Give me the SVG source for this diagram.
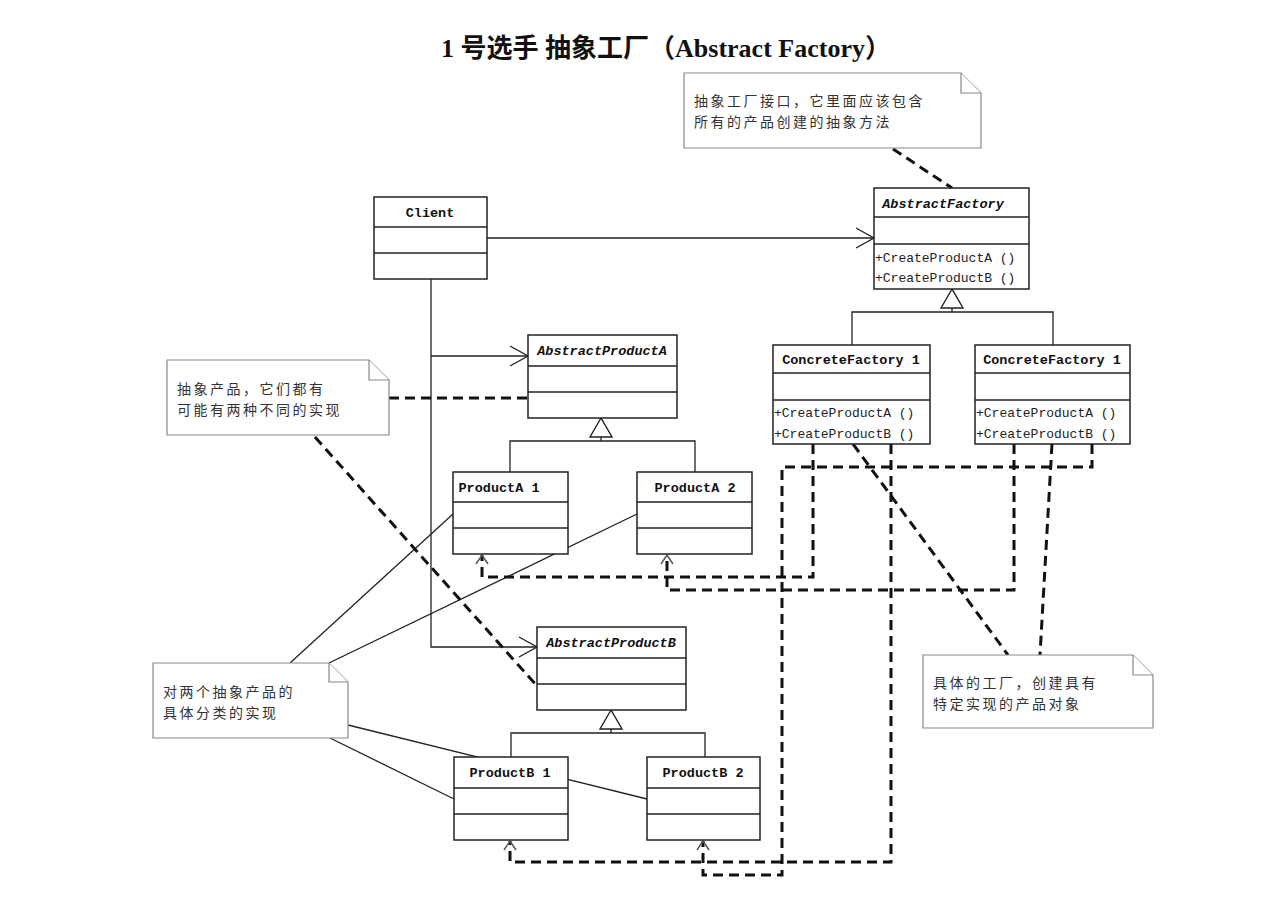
<svg xmlns="http://www.w3.org/2000/svg" width="1276" height="899" viewBox="0 0 1276 899">
<defs>
<style>
.box{fill:#fff;stroke:#222;stroke-width:1.5}
.sep{stroke:#222;stroke-width:1.5;fill:none}
.ln{stroke:#222;stroke-width:1.3;fill:none}
.dash{stroke:#111;stroke-width:3;fill:none;stroke-dasharray:10 6}
.note{fill:#fff;stroke:#888;stroke-width:1.2}
.tri{fill:#fff;stroke:#222;stroke-width:1.4}
.nm{font-family:"Liberation Mono",monospace;font-size:13.5px;fill:#111;text-anchor:middle}
.b{font-weight:bold}
.it{font-style:italic;font-weight:bold}
.mt{font-family:"Liberation Mono",monospace;font-size:13px;fill:#222}
.nt{font-family:"Noto Sans CJK SC",sans-serif;font-size:14px;letter-spacing:2.5px;fill:#333}
.title{font-family:"Liberation Serif","Noto Sans CJK SC",serif;font-size:26px;font-weight:bold;fill:#111;text-anchor:middle}
</style>
<marker id="open" markerUnits="userSpaceOnUse" markerWidth="22" markerHeight="24" refX="19" refY="11" orient="auto">
<path d="M1,1 L19,11 L1,21" fill="none" stroke="#222" stroke-width="1.4"/>
</marker>
<marker id="dep" markerUnits="userSpaceOnUse" markerWidth="14" markerHeight="16" refX="10" refY="7" orient="auto">
<path d="M1,1 L10,7 L1,13" fill="none" stroke="#555" stroke-width="1.5"/>
</marker>
</defs>
<rect width="1276" height="899" fill="#fff"/>

<g id="title">
<text class="title" x="666" y="57">1 号选手 抽象工厂（Abstract Factory）</text>
</g>

<g id="connectors">
<!-- associations from Client -->
<line class="ln" x1="487" y1="238" x2="874" y2="238" marker-end="url(#open)"/>
<polyline class="ln" points="431,279 431,647 537,647" marker-end="url(#open)"/>
<line class="ln" x1="431" y1="356" x2="528" y2="356" marker-end="url(#open)"/>
<!-- generalizations -->
<polyline class="ln" points="952,308 952,312"/>
<polyline class="ln" points="852,345 852,312 1053,312 1053,345"/>
<polygon class="tri" points="952,289 941,308 963,308"/>
<polyline class="ln" points="601,437 601,441"/>
<polyline class="ln" points="510,472 510,441 695,441 695,472"/>
<polygon class="tri" points="601,418 590,437 612,437"/>
<polyline class="ln" points="611,729 611,733"/>
<polyline class="ln" points="511,757 511,733 705,733 705,757"/>
<polygon class="tri" points="611,710 600,729 622,729"/>
<!-- note links (solid) -->
<line class="ln" x1="290" y1="663" x2="453" y2="514"/>
<line class="ln" x1="329" y1="663" x2="637" y2="514"/>
<line class="ln" x1="348" y1="725" x2="647" y2="799"/>
<line class="ln" x1="330" y1="738" x2="454" y2="799"/>
<!-- note links (dashed) -->
<line class="dash" x1="893" y1="149" x2="952" y2="188"/>
<line class="dash" x1="389" y1="398" x2="528" y2="398"/>
<line class="dash" x1="315" y1="437" x2="537" y2="686"/>
<line class="dash" x1="853" y1="444" x2="1008" y2="655"/>
<line class="dash" x1="1052" y1="444" x2="1040" y2="655"/>
<!-- dependencies -->
<polyline class="dash" points="813,444 813,577 482,577 482,555" marker-end="url(#dep)"/>
<polyline class="dash" points="1014,444 1014,590 667,590 667,555" marker-end="url(#dep)"/>
<polyline class="dash" points="891,444 891,862 510,862 510,841" marker-end="url(#dep)"/>
<polyline class="dash" points="1092,444 1092,467 782,467 782,875 703,875 703,841" marker-end="url(#dep)"/>
</g>

<g id="note-factory">
<path class="note" d="M684,73 H961 L981,93 V148 H684 Z"/>
<path class="note" d="M961,73 V93 H981" fill="none"/>
<text class="nt" x="694" y="106">抽象工厂接口，它里面应该包含</text>
<text class="nt" x="694" y="127">所有的产品创建的抽象方法</text>
</g>

<g id="note-products">
<path class="note" d="M167,360 H369 L389,380 V435 H167 Z"/>
<path class="note" d="M369,360 V380 H389" fill="none"/>
<text class="nt" x="177" y="394">抽象产品，它们都有</text>
<text class="nt" x="177" y="415">可能有两种不同的实现</text>
</g>

<g id="note-concrete-products">
<path class="note" d="M153,663 H329 L348,682 V738 H153 Z"/>
<path class="note" d="M329,663 V682 H348" fill="none"/>
<text class="nt" x="163" y="697">对两个抽象产品的</text>
<text class="nt" x="163" y="718">具体分类的实现</text>
</g>

<g id="note-concrete-factory">
<path class="note" d="M923,655 H1133 L1153,675 V728 H923 Z"/>
<path class="note" d="M1133,655 V675 H1153" fill="none"/>
<text class="nt" x="933" y="688">具体的工厂，创建具有</text>
<text class="nt" x="933" y="709">特定实现的产品对象</text>
</g>

<g id="client">
<rect class="box" x="374" y="197" width="113" height="82"/>
<line class="sep" x1="374" y1="227" x2="487" y2="227"/>
<line class="sep" x1="374" y1="253" x2="487" y2="253"/>
<text class="nm b" x="430" y="217">Client</text>
</g>

<g id="abstract-factory">
<rect class="box" x="874" y="188" width="155" height="101"/>
<line class="sep" x1="874" y1="217" x2="1029" y2="217"/>
<line class="sep" x1="874" y1="244" x2="1029" y2="244"/>
<text class="nm it" x="943" y="208">AbstractFactory</text>
<text class="mt" x="875" y="262">+CreateProductA ()</text>
<text class="mt" x="875" y="282">+CreateProductB ()</text>
</g>

<g id="concrete-factory-1">
<rect class="box" x="773" y="345" width="157" height="99"/>
<line class="sep" x1="773" y1="373" x2="930" y2="373"/>
<line class="sep" x1="773" y1="400" x2="930" y2="400"/>
<text class="nm b" x="851" y="364">ConcreteFactory 1</text>
<text class="mt" x="774" y="417">+CreateProductA ()</text>
<text class="mt" x="774" y="438">+CreateProductB ()</text>
</g>

<g id="concrete-factory-2">
<rect class="box" x="975" y="345" width="155" height="99"/>
<line class="sep" x1="975" y1="373" x2="1130" y2="373"/>
<line class="sep" x1="975" y1="400" x2="1130" y2="400"/>
<text class="nm b" x="1052" y="364">ConcreteFactory 1</text>
<text class="mt" x="976" y="417">+CreateProductA ()</text>
<text class="mt" x="976" y="438">+CreateProductB ()</text>
</g>

<g id="abstract-product-a">
<rect class="box" x="528" y="335" width="149" height="83"/>
<line class="sep" x1="528" y1="366" x2="677" y2="366"/>
<line class="sep" x1="528" y1="392" x2="677" y2="392"/>
<text class="nm it" x="602" y="355">AbstractProductA</text>
</g>

<g id="product-a1">
<rect class="box" x="453" y="472" width="115" height="82"/>
<line class="sep" x1="453" y1="502" x2="568" y2="502"/>
<line class="sep" x1="453" y1="528" x2="568" y2="528"/>
<text class="nm b" x="499" y="492">ProductA 1</text>
</g>

<g id="product-a2">
<rect class="box" x="637" y="472" width="115" height="82"/>
<line class="sep" x1="637" y1="502" x2="752" y2="502"/>
<line class="sep" x1="637" y1="528" x2="752" y2="528"/>
<text class="nm b" x="695" y="492">ProductA 2</text>
</g>

<g id="abstract-product-b">
<rect class="box" x="537" y="627" width="149" height="83"/>
<line class="sep" x1="537" y1="658" x2="686" y2="658"/>
<line class="sep" x1="537" y1="684" x2="686" y2="684"/>
<text class="nm it" x="611" y="647">AbstractProductB</text>
</g>

<g id="product-b1">
<rect class="box" x="454" y="757" width="114" height="83"/>
<line class="sep" x1="454" y1="788" x2="568" y2="788"/>
<line class="sep" x1="454" y1="814" x2="568" y2="814"/>
<text class="nm b" x="510" y="777">ProductB 1</text>
</g>

<g id="product-b2">
<rect class="box" x="647" y="757" width="113" height="83"/>
<line class="sep" x1="647" y1="788" x2="760" y2="788"/>
<line class="sep" x1="647" y1="814" x2="760" y2="814"/>
<text class="nm b" x="703" y="777">ProductB 2</text>
</g>
</svg>
